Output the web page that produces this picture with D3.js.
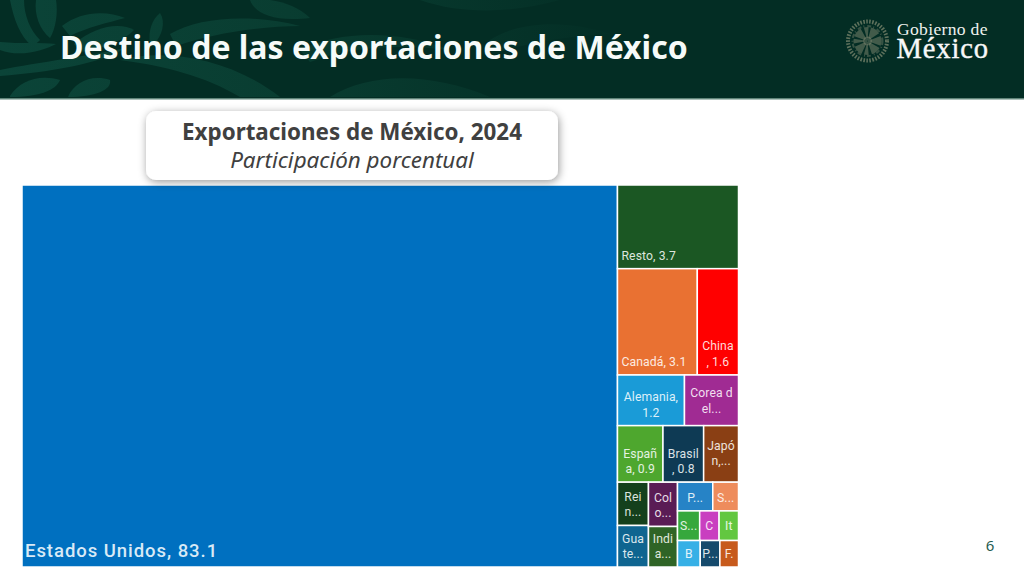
<!DOCTYPE html>
<html>
<head>
<meta charset="utf-8">
<script src="https://d3js.org/d3.v7.min.js"></script>
<style>
html, body { margin: 0; padding: 0; background: #fff; }
svg { display: block; }
.cell-label { font-family: Roboto, sans-serif; font-size: 12.2px; letter-spacing: 0.1px; }
.cell-label.big { font-size: 18.5px; font-weight: 500; letter-spacing: 0.95px; }
</style>
</head>
<body>
<svg id="chart" width="1024" height="576"></svg>
<script>
// values, the small ones are estimates
var countries = ["Estados Unidos", "Resto", "Canadá", "China", "Alemania", "Corea del Sur",
  "España", "Brasil", "Japón", "Reino Unido", "Guatemala", "Colombia", "India",
  "Países Bajos", "Suiza", "Singapur", "Chile", "Italia", "Bélgica", "Perú", "Francia"];
var shares = [83.1, 3.7, 3.1, 1.6, 1.24, 1.0,
  0.94, 0.84, 0.72, 0.49, 0.47, 0.47, 0.43,
  0.37, 0.27, 0.24, 0.21, 0.21, 0.22, 0.19, 0.18];
var labels = [["Estados Unidos, 83.1"], ["Resto, 3.7"], ["Canadá, 3.1"], ["China", ", 1.6"], ["Alemania,", "1.2"], ["Corea d", "el..."],
  ["Españ", "a, 0.9"], ["Brasil", ", 0.8"], ["Japó", "n,..."], ["Rei", "n..."], ["Gua", "te..."], ["Col", "o..."], ["Indi", "a..."],
  ["P..."], ["S..."], ["S..."], ["C"], ["It"], ["B"], ["P..."], ["F."]];
var colors = ["#0070c0", "#1b5723", "#e97132", "#ff0000", "#1a9bd7", "#a02b93",
  "#4ea72e", "#0e3a54", "#8a3f14", "#14401c", "#0f6590", "#5a1c55", "#2f6426",
  "#2683c6", "#ee8c5c", "#36a83c", "#c93fc0", "#62c740", "#36b0e6", "#154a6c", "#c75a1c"];

// how the cells nest: rows and columns of indexes into the arrays above
var tree = [0, [1, [2, 3], [4, 5], [6, 7, 8],
  [[9, 10], [11, 12], [[13, 14], [15, 16, 17], [18, 19, 20]]]]];

// extra lift for labels that sit higher in their cell
var lift = {5: 4, 8: 8, 15: 2, 16: 2, 17: 2};

var svg = d3.select("#chart");
var defs = svg.append("defs");

var shadow = defs.append("filter").attr("id", "cardShadow")
  .attr("x", "-5%").attr("y", "-20%").attr("width", "110%").attr("height", "150%");
shadow.append("feDropShadow").attr("dx", 1).attr("dy", 2).attr("stdDeviation", 4)
  .attr("flood-color", "#000").attr("flood-opacity", 0.4);

defs.append("clipPath").attr("id", "headClip")
  .append("rect").attr("width", 1024).attr("height", 98);

var swirlFade = defs.append("linearGradient").attr("id", "swirlFade")
  .attr("gradientUnits", "userSpaceOnUse").attr("x1", 0).attr("x2", 640).attr("y1", 0).attr("y2", 0);
swirlFade.append("stop").attr("offset", 0).attr("stop-color", "#0b4438");
swirlFade.append("stop").attr("offset", 0.45).attr("stop-color", "#093d31");
swirlFade.append("stop").attr("offset", 1).attr("stop-color", "#032d24");

// header band
svg.append("rect").attr("width", 1024).attr("height", 99).attr("fill", "#032d24");
var swirls = [
  "M10,0 C14,20 20,36 32,46 C36,44 38,42 40,40 C30,30 24,15 24,0Z",
  "M36,0 C34,15 40,30 50,38 C56,28 58,12 56,0Z",
  "M62,26 C80,12 105,10 125,18 C110,22 85,28 70,36Z",
  "M0,50 C20,58 45,50 56,44 C40,42 20,44 0,42Z",
  "M74,44 C95,26 120,22 134,30 C125,40 100,50 80,52Z",
  "M10,96 C20,80 40,74 60,80 C56,90 40,97 10,97Z",
  "M68,97 C74,82 92,74 110,80 C112,90 95,97 68,97Z",
  "M150,44 C148,30 152,20 160,13 C166,22 162,36 154,44Z",
  "M170,34 C200,16 255,14 300,26 C260,26 210,34 176,46Z",
  "M120,60 C165,48 230,58 280,97 L240,97 C205,76 165,66 120,60Z",
  "M0,70 C40,62 90,56 125,48 C100,64 50,72 0,76Z",
  "M250,0 C255,14 275,22 310,18 C300,8 285,2 270,0Z",
  "M300,50 C340,30 400,30 450,50 C400,44 350,46 310,62Z",
  "M330,97 C370,72 430,72 490,97Z",
  "M420,0 C460,14 510,14 560,0Z",
  "M490,40 C520,20 570,20 610,34 C570,36 530,42 500,52Z"
];
svg.append("g").attr("clip-path", "url(#headClip)")
  .selectAll("path").data(swirls).enter().append("path")
  .attr("d", function(d) { return d; })
  .attr("fill", "url(#swirlFade)");
svg.append("rect").attr("y", 98).attr("width", 1024).attr("height", 1.5).attr("fill", "#5f8479");

svg.append("text").attr("x", 60).attr("y", 59)
  .attr("font-family", "'Noto Sans', sans-serif").attr("font-weight", 700).attr("font-size", 32)
  .attr("fill", "#f6fbf9").text("Destino de las exportaciones de México");

// emblem, a rough seal
var seal = svg.append("g").attr("transform", "translate(867.5,41)").attr("fill", "none").attr("stroke", "#9a9c80");
seal.append("circle").attr("r", 19.5).attr("stroke-width", 4).attr("stroke-dasharray", "1.6 1.4").attr("opacity", 0.6);
seal.append("circle").attr("r", 15).attr("stroke-width", 2).attr("stroke-dasharray", "4 2 1 3").attr("opacity", 0.35);
seal.append("circle").attr("r", 8.5).attr("stroke-width", 11).attr("stroke-dasharray", "3 1.5 6 2").attr("opacity", 0.42);
seal.append("circle").attr("r", 2.5).attr("stroke-width", 4).attr("opacity", 0.35);

svg.append("text").attr("x", 897).attr("y", 34.5)
  .attr("font-family", "'Liberation Serif', serif").attr("font-size", 17.6).attr("fill", "#eef2ef")
  .attr("letter-spacing", 0.3).text("Gobierno de");
svg.append("text").attr("x", 896.5).attr("y", 57.5)
  .attr("font-family", "'Liberation Serif', serif").attr("font-size", 28.5).attr("fill", "#f8f8f8")
  .attr("stroke", "#f8f8f8").attr("stroke-width", 0.4).attr("letter-spacing", 0.9)
  .text("México");

// treemap
function toNode(d) {
  if (typeof d === "number") return {i: d};
  return {children: d.map(toNode)};
}

function tile(node, x0, y0, x1, y1) {
  (node.depth % 2 ? d3.treemapSlice : d3.treemapDice)(node, x0, y0, x1, y1);
}

var root = d3.hierarchy(toNode(tree)).sum(function(d) { return d.i === undefined ? 0 : shares[d.i]; });

d3.treemap().tile(tile).size([716.5, 382])(root);

var map = svg.append("g").attr("transform", "translate(22,185)");

var cell = map.selectAll("g").data(root.leaves()).enter().append("g");

cell.append("rect")
  .attr("x", function(d) { return d.x0; })
  .attr("y", function(d) { return d.y0; })
  .attr("width", function(d) { return d.x1 - d.x0; })
  .attr("height", function(d) { return d.y1 - d.y0; })
  .attr("fill", function(d) { return colors[d.data.i]; })
  .attr("stroke", "#fff")
  .attr("stroke-width", 1.5)
  .append("title").text(function(d) { return countries[d.data.i] + ", " + shares[d.data.i]; });

cell.each(function(d) {
  var i = d.data.i;
  var lines = labels[i];
  var leftAligned = i < 3;
  var big = i === 0;
  var t = d3.select(this).append("text").attr("class", big ? "cell-label big" : "cell-label")
    .attr("fill", d3.interpolateRgb(colors[i], "#ffffff")(0.85))
    .attr("text-anchor", leftAligned ? "start" : "middle");
  lines.forEach(function(line, k) {
    t.append("tspan")
      .attr("x", leftAligned ? d.x0 + (big ? 3 : 4) : (d.x0 + d.x1) / 2)
      .attr("y", d.y1 - (big ? 10 : 9) - (lift[i] || 0) - (lines.length - 1 - k) * 15.5)
      .text(line);
  });
});

// subtitle card sits over the top of the map
var card = svg.append("g");
card.append("rect").attr("x", 146).attr("y", 111).attr("width", 412).attr("height", 69).attr("rx", 10)
  .attr("fill", "#fff").attr("filter", "url(#cardShadow)");
card.append("text").attr("x", 352).attr("y", 140).attr("text-anchor", "middle")
  .attr("font-family", "'Noto Sans', sans-serif").attr("font-weight", 700).attr("font-size", 22.4)
  .attr("fill", "#404040").text("Exportaciones de México, 2024");
card.append("text").attr("x", 352).attr("y", 168).attr("text-anchor", "middle")
  .attr("font-family", "'Noto Sans', sans-serif").attr("font-style", "italic").attr("font-size", 22.4)
  .attr("fill", "#404040").text("Participación porcentual");

svg.append("text").attr("x", 990).attr("y", 551).attr("text-anchor", "middle")
  .attr("font-family", "'Noto Sans', sans-serif").attr("font-size", 15)
  .attr("fill", "#1f5c50").text("6");
</script>
</body>
</html>
